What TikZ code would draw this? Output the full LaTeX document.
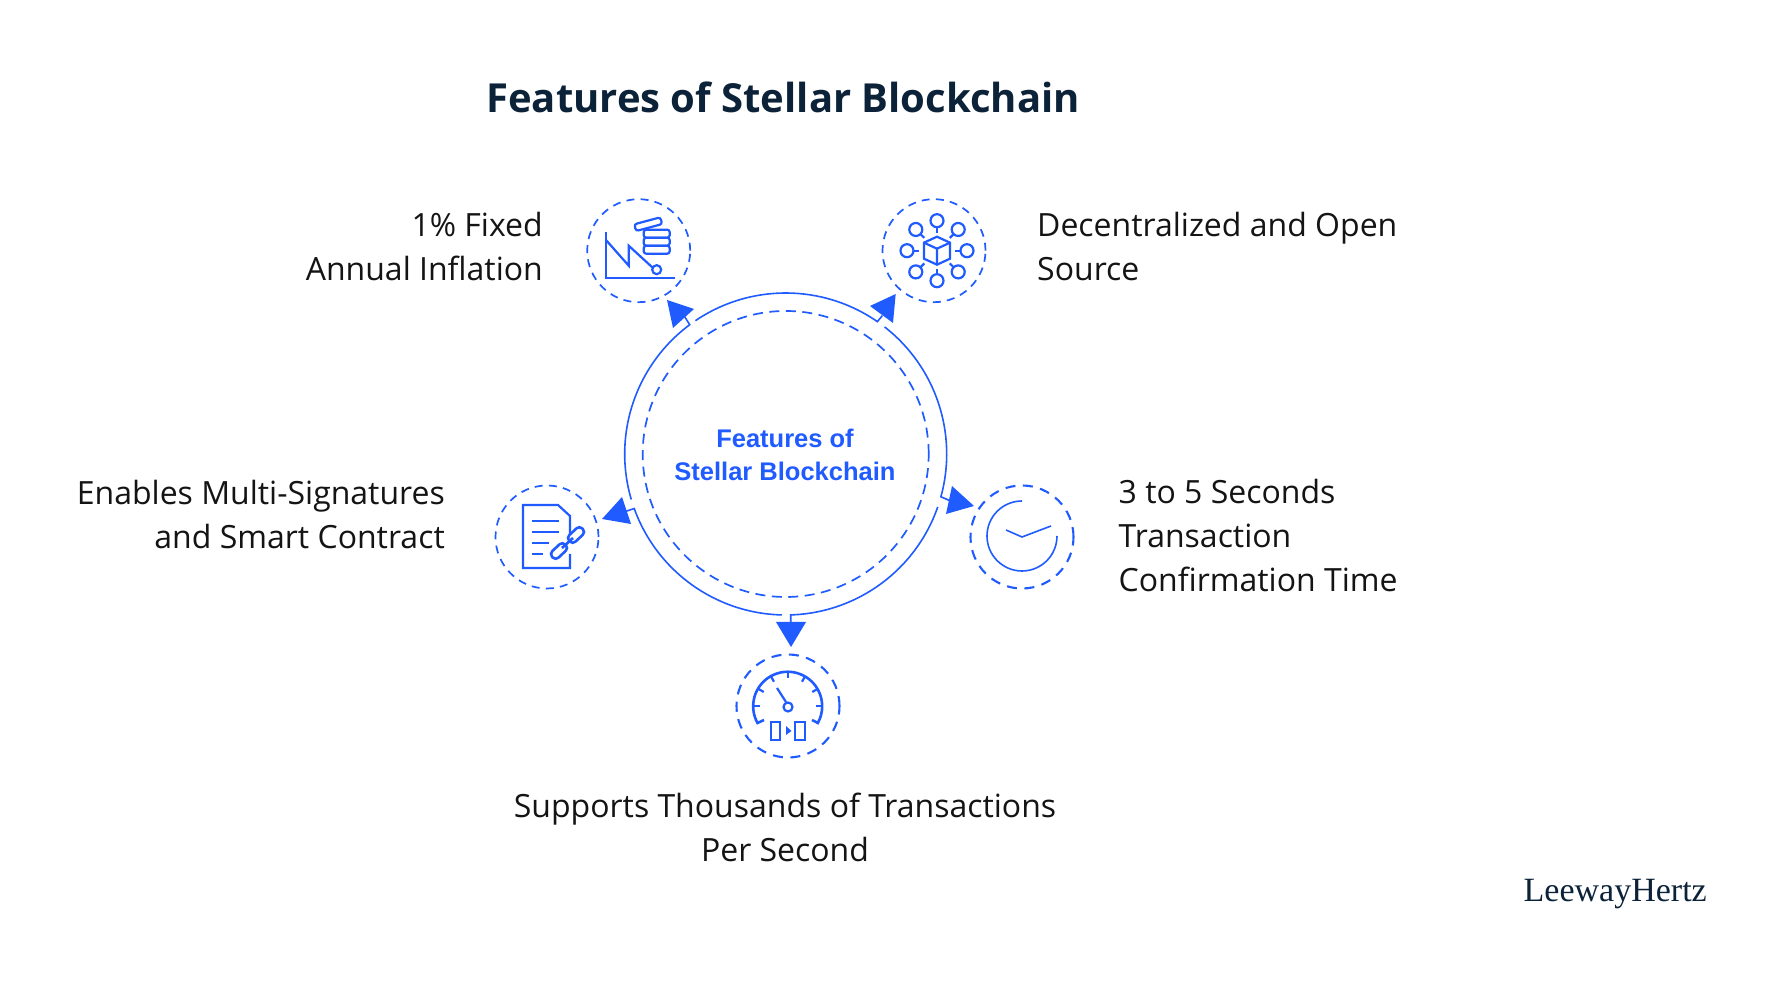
\documentclass[tikz,border=0pt]{standalone}
\usepackage{fontspec}
\setmainfont{Open Sans}
\newfontfamily\centerfont{Liberation Sans}
\newfontfamily\logofont{Liberation Serif}
\usetikzlibrary{calc}
\definecolor{bl}{HTML}{1F5BFF}
\definecolor{navy}{HTML}{0B2239}
\definecolor{ink}{HTML}{141414}
\tikzset{
  x=1pt,y=1pt,
  dashring/.style={draw=bl,line width=1.7pt,dash pattern=on 8pt off 6.2pt,fill=none},
  boldring/.style={dashring,line width=2.1pt,dash pattern=on 10pt off 7.5pt},
  icon/.style={draw=bl,line width=2.2pt,fill=none,line join=miter},
  thinicon/.style={draw=bl,line width=1.6pt,fill=none},
  arcline/.style={draw=bl,line width=1.6pt},
  head/.style={fill=bl,draw=none},
  label/.style={text=ink,font=\fontsize{32}{44}\selectfont,inner sep=0pt},
}
\begin{document}
\begin{tikzpicture}
\useasboundingbox (0,0) rectangle (1765,1000);
\fill[white] (0,0) rectangle (1765,1000);
\coordinate (cc) at (785.7,546);
% title
\node[text=navy,font=\fontsize{40}{44}\bfseries\selectfont,inner sep=0pt] (title) at (783,903) {Features of Stellar Blockchain};
% hub
\draw[dashring,dash pattern=on 10pt off 6.5pt] (cc) circle (143);
\node[text=bl,font=\fontsize{25.5}{33}\centerfont\bfseries\selectfont,align=center,inner sep=0pt] (hub) at (785,545) {Features of\\Stellar Blockchain};
% arcs with arrows
\draw[arcline] ($(cc)+(124.1:161pt)$) arc[start angle=124.1,end angle=55.3,radius=161pt] -- +(5,6);
\fill[head] (895.7,706) -- (870,694) -- (893,677) -- cycle;
\draw[arcline] ($(cc)+(52.1:161pt)$) arc[start angle=52.1,end angle=-15.4,radius=161pt] -- +(9,-4);
\fill[head] (974,494) -- (952,514) -- (946,486) -- cycle;
\draw[arcline] ($(cc)+(-19.2:161pt)$) arc[start angle=-19.2,end angle=-88.2,radius=161pt] -- +(0,-7);
\fill[head] (791,353) -- (776,378) -- (806,378) -- cycle;
\draw[arcline] ($(cc)+(-91.4:161pt)$) arc[start angle=-91.4,end angle=-160.2,radius=161pt] -- +(-9,-3);
\fill[head] (602,481) -- (622,503) -- (631,476) -- cycle;
\draw[arcline] ($(cc)+(196.4:161pt)$) arc[start angle=196.4,end angle=126.6,radius=161pt] -- +(-5,8);
\fill[head] (667,700) -- (694,691) -- (673,672) -- cycle;
% icon rings
\node[circle,minimum size=103pt,inner sep=0pt,dashring] (i1) at (638.7,749.3) {};
\node[circle,minimum size=103pt,inner sep=0pt,dashring] (i2) at (934,749.3) {};
\node[circle,minimum size=103pt,inner sep=0pt,boldring] (i3) at (1022,463) {};
\node[circle,minimum size=103pt,inner sep=0pt,dashring] (i4) at (547,463) {};
\node[circle,minimum size=103pt,inner sep=0pt,boldring] (i5) at (788,294) {};
% icon 1: chart and coins
\begin{scope}[shift={(i1.center)},yscale=-1]
 \draw[icon] (-33,-19) -- (-33,27) -- (36,27);
 \draw[icon] (-33,-11) -- (-10,15) -- (-10,-5) -- (14,17);
 \draw[icon] (18,19) circle (4.5);
 \begin{scope}[rotate around={-15:(9.5,-26.5)}]
   \draw[icon,rounded corners=2.5pt] (-4,-30) rectangle (23,-23);
 \end{scope}
 \draw[icon,rounded corners=2.5pt] (5,-21) rectangle (31,-13);
 \draw[icon,rounded corners=2.5pt] (5,-13) rectangle (31,-5);
 \draw[icon,rounded corners=2.5pt] (5,-5) rectangle (31,3);
\end{scope}
% icon 2: network cube
\begin{scope}[shift={(i2.center)},yscale=-1]
 \draw[icon] (-10,-8) -- (3,-14) -- (16,-8) -- (16,8) -- (3,14) -- (-10,8) -- cycle;
 \draw[icon] (-10,-8) -- (3,-2) -- (16,-8) (3,-2) -- (3,14);
 \foreach \a in {90,45,0,-45,-90,-135,180,135}{
   \draw[icon] ($(3,0)+(\a:30)$) circle (6.5);
   \draw[icon] ($(3,0)+(\a:23.5)$) -- ($(3,0)+(\a:18)$);
 }
\end{scope}
% icon 3: clock
\begin{scope}[shift={(i3.center)},yscale=-1]
 \draw[thinicon] (0,-36) arc[start angle=-90,delta angle=-270,radius=35pt];
 \draw[thinicon] (-16,-7) -- (0,0) -- (29,-11);
\end{scope}
% icon 4: document and chain
\begin{scope}[shift={(i4.center)},yscale=-1]
 \draw[icon] (23,-2) -- (23,-21) -- (11,-32) -- (-24,-32) -- (-24,31) -- (23,31) -- (23,17);
 \draw[icon] (-15,-16) -- (12,-16) (-15,-5) -- (12,-5) (-15,6) -- (2,6) (-15,17) -- (-4,17);
 \begin{scope}[rotate around={-43:(12,14)}]
  \draw[icon,line width=2.6pt,rounded corners=4pt] (3,9.5) rectangle (21,18.5);
 \end{scope}
 \begin{scope}[rotate around={-43:(29,-2)}]
  \draw[icon,line width=2.6pt,rounded corners=4pt] (20,-6.5) rectangle (38,2.5);
 \end{scope}
 \draw[icon,line width=2.6pt] (15,11) -- (26,1);
\end{scope}
% icon 5: gauge
\begin{scope}[shift={(i5.center)},yscale=-1]
 \draw[icon,line width=2.6pt] (-24,14) -- (-30.5,17) arc[start angle=151,delta angle=238,radius=34.5pt] -- (24,14);
 \foreach \a in {0,30,60,90,120,150,180}{
   \draw[icon] (-\a:34) -- (-\a:28);
 }
 \draw[icon] (-11,-18) -- (-2,-4);
 \draw[icon] (0,1) circle (4.5);
 \draw[icon] (-17,16) rectangle (-8,34);
 \draw[icon] (7,16) rectangle (17,34);
 \fill[bl] (-2,20) -- (3.5,25) -- (-2,29) -- cycle;
\end{scope}
% labels
\node[label,align=right,anchor=east] (l1) at (543,753) {1\% Fixed\\Annual Inflation};
\node[label,align=left,anchor=west] (l2) at (1037,753) {Decentralized and Open\\Source};
\node[label,align=left,anchor=west] (l3) at (1118.5,464) {3 to 5 Seconds\\Transaction\\Confirmation Time};
\node[label,align=right,anchor=east] (l4) at (445,485.5) {Enables Multi-Signatures\\and Smart Contract};
\node[label,align=center] (l5) at (785,173) {Supports Thousands of Transactions\\Per Second};
\node[text=navy,font=\fontsize{34}{40}\logofont\selectfont,inner sep=0pt,anchor=east] (logo) at (1707,106) {LeewayHertz};
\end{tikzpicture}
\end{document}
